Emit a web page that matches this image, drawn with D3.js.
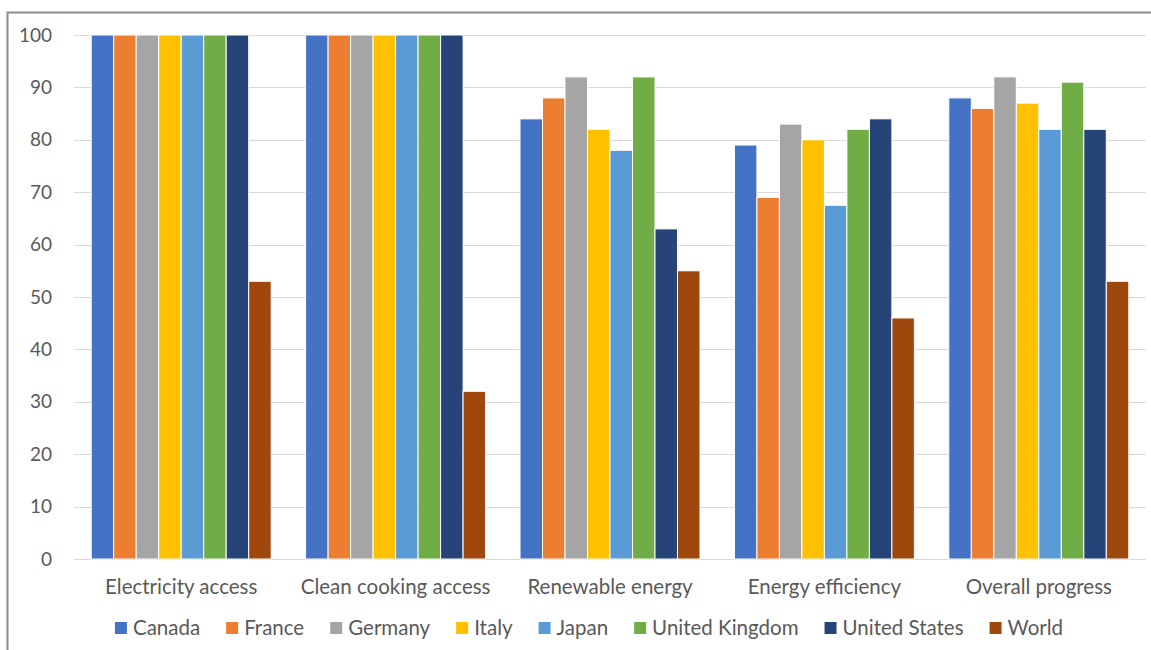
<!DOCTYPE html>
<html>
<head>
<meta charset="utf-8">
<script src="https://cdn.jsdelivr.net/npm/d3@7"></script>
<style>
  html, body { margin: 0; padding: 0; background: #fff; }
  svg { display: block; }
  text { font-family: Lato, "Open Sans", sans-serif; }
</style>
</head>
<body>
<svg id="chart" width="1151" height="650"></svg>
<script>
// Energy progress scores by indicator
const categories = ["Electricity access", "Clean cooking access", "Renewable energy", "Energy efficiency", "Overall progress"];
const seriesNames = ["Canada", "France", "Germany", "Italy", "Japan", "United Kingdom", "United States", "World"];
const seriesColors = ["#4472C4", "#ED7D31", "#A5A5A5", "#FFC000", "#5B9BD5", "#70AD47", "#264478", "#9E480E"];

const canada  = [100, 100, 84, 79, 88];
const france  = [100, 100, 88, 69, 86];
const germany = [100, 100, 92, 83, 92];
const italy   = [100, 100, 82, 80, 87];
const japan   = [100, 100, 78, 67.5, 82];
const uk      = [100, 100, 92, 82, 91];
const us      = [100, 100, 63, 84, 82];
const world   = [53, 32, 55, 46, 53];

const yTicks = [0, 10, 20, 30, 40, 50, 60, 70, 80, 90, 100];

const seriesValues = [canada, france, germany, italy, japan, uk, us, world];

const svg = d3.select("#chart");

// outer chart frame (extends past the right and bottom edges)
const frame = { x: 7.5, y: 12.5, w: 1163, h: 660 };
svg.append("rect")
  .attr("x", frame.x).attr("y", frame.y)
  .attr("width", frame.w).attr("height", frame.h)
  .attr("fill", "none").attr("stroke", "#8c8c8c").attr("stroke-width", 2);

const plot = { left: 74, right: 1146, top: 35, bottom: 559 };

const y = d3.scaleLinear().domain([0, 100]).range([plot.bottom, plot.top]);
const x0 = d3.scaleBand().domain(categories).range([plot.left, plot.right]).padding(0);
const x1 = d3.scaleBand().domain(seriesNames).range([0, x0.bandwidth()])
  .paddingInner(0).paddingOuter(0.765);

// gridlines
svg.append("g").selectAll("line").data(yTicks).join("line")
  .attr("x1", plot.left).attr("x2", plot.right)
  .attr("y1", d => Math.round(y(d)) + 0.5).attr("y2", d => Math.round(y(d)) + 0.5)
  .attr("stroke", "#d9d9d9").attr("stroke-width", 1.2);

// y tick labels
const yAxis = d3.axisLeft(y).tickValues(yTicks).tickSize(0).tickPadding(0);
const yg = svg.append("g").attr("transform", `translate(${plot.left - 22},0)`).call(yAxis);
yg.select(".domain").remove();
yg.selectAll("text")
  .attr("fill", "#595959").style("font-size", "19px")
  .style("font-family", "Lato, 'Open Sans', sans-serif");

// bars
const groups = svg.append("g").selectAll("g").data(categories).join("g")
  .attr("transform", d => `translate(${x0(d)},0)`);

groups.selectAll("rect")
  .data((c, ci) => seriesNames.map((s, si) => ({ s, si, v: seriesValues[si][ci] })))
  .join("rect")
  .attr("x", d => x1(d.s))
  .attr("width", x1.bandwidth())
  .attr("y", d => y(d.v))
  .attr("height", d => y(0) - y(d.v))
  .attr("fill", d => seriesColors[d.si])
  .attr("stroke", "#fff").attr("stroke-width", 1);

// category labels
const xAxis = d3.axisBottom(x0).tickSize(0).tickPadding(0);
const xg = svg.append("g").attr("transform", `translate(0,${plot.bottom + 35})`).call(xAxis);
xg.select(".domain").remove();
xg.selectAll("text")
  .attr("dy", 0)
  .attr("fill", "#595959").style("font-size", "20.5px")
  .style("font-family", "Lato, 'Open Sans', sans-serif");

// legend, centred on the chart frame
const legend = svg.append("g").attr("class", "legend");
const items = legend.selectAll("g").data(seriesNames).join("g");
items.append("rect")
  .attr("width", 12).attr("height", 12)
  .attr("y", -13)
  .attr("fill", (d, i) => seriesColors[i]);
items.append("text")
  .attr("x", 18).attr("y", 0)
  .attr("fill", "#595959").style("font-size", "20.5px")
  .text(d => d);

let cursor = 0;
const itemGap = 26;
items.each(function () {
  const g = d3.select(this);
  const w = 18 + g.select("text").node().getComputedTextLength();
  g.attr("transform", `translate(${cursor},0)`);
  cursor += w + itemGap;
});
const totalW = cursor - itemGap;
const legendLeft = frame.x + frame.w / 2 - totalW / 2;
legend.attr("transform", `translate(${legendLeft},${635})`);
</script>
</body>
</html>
